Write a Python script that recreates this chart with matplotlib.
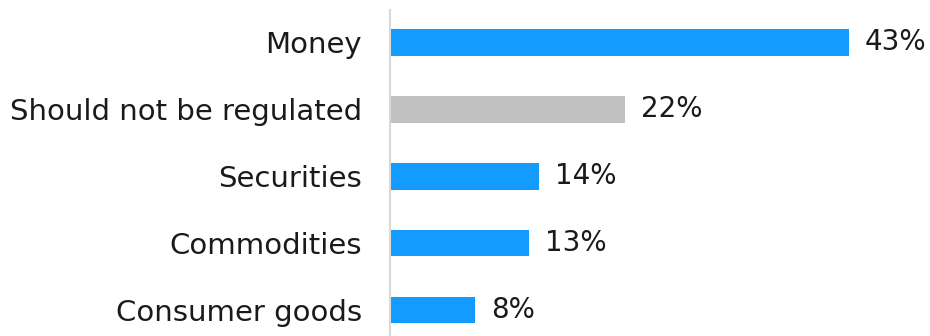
import matplotlib
matplotlib.use("Agg")
import matplotlib.pyplot as plt

categories = ["Money", "Should not be regulated", "Securities", "Commodities", "Consumer goods"]
values = [43, 22, 14, 13, 8]
colors = ["#149BFF", "#C0C0C0", "#149BFF", "#149BFF", "#149BFF"]

plt.rcParams['font.family'] = ['DejaVu Sans']

fig = plt.figure(figsize=(9.3, 3.36), dpi=100)
ax = fig.add_axes([390 / 930, 0, 540 / 930, 326 / 336])

pos = list(range(len(categories)))
ax.barh(pos, values, height=0.40, color=colors)
ax.set_xlim(0, 540 / 10.67)
ax.set_ylim(4.39, -0.486)

for p, v in zip(pos, values):
    ax.text(v + 1.5, p, f"{v}%", va="center", ha="left", fontsize=20, color="#1a1a1a")

ax.set_yticks(pos)
ax.set_yticklabels(categories, fontsize=21, color="#1a1a1a")
ax.tick_params(axis="y", length=0, pad=20)
ax.set_xticks([])

for s in ["top", "right", "bottom"]:
    ax.spines[s].set_visible(False)
ax.spines["left"].set_color("#D9D9D9")
ax.spines["left"].set_linewidth(1.5)

fig.savefig("out.png", dpi=100)
